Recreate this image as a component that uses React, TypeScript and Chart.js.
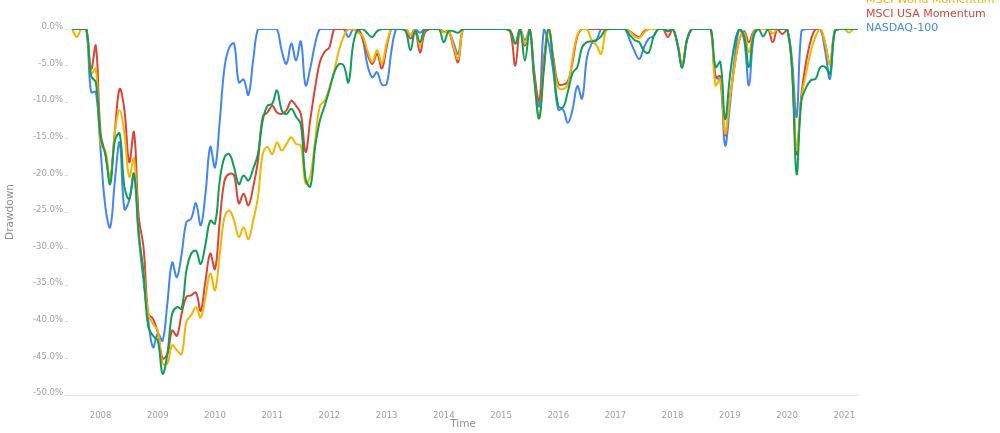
import React, { useEffect, useRef } from 'react';
import { Chart, registerables } from 'chart.js';

Chart.register(...registerables);

// Monthly observations, first one at the end of June 2007
const FIRST_YEAR = 2007;
const FIRST_MONTH = 6;
const COUNT = 166;
const monthLabels: string[] = [];
for (let i = 0; i < COUNT; i++) {
  const t = FIRST_MONTH - 1 + i;
  const y = FIRST_YEAR + Math.floor(t / 12);
  const m = (t % 12) + 1;
  monthLabels.push(`${y}-${String(m).padStart(2, '0')}`);
}
const monthToYear = (s: string) => {
  const [y, m] = s.split('-').map(Number);
  return y + m / 12;
};

const yearTicks = [2008, 2009, 2010, 2011, 2012, 2013, 2014, 2015, 2016, 2017, 2018, 2019, 2020, 2021];

const seriesNames = ['MSCI World', 'MSCI World Momentum', 'MSCI USA Momentum', 'NASDAQ-100'];
const seriesColors = ['#0F9D58', '#F4B400', '#DB4437', '#4285F4'];

const nasdaq100 = [
  0, 0, 0, 0, -8.6, -8.6, -16.6, -24.3, -27.1, -20.7, -15.5, -24.6,
  -23.4, -19.8, -28.4, -34.4, -39.8, -43.5, -41.6, -42.6, -37.5, -31.9, -33.9, -30.7,
  -26.4, -25.9, -23.8, -26.8, -22.5, -16.1, -18.9, -12.5, -5.2, -2.5, -2.0, -7.3,
  -6.9, -9.0, -4.3, 0, 0, 0, 0, 0, -3, -4.75, -2, -4.3,
  -1.7, -7.7, -5.3, -2, 0, 0, 0, 0, 0, 0, -1.1, 0,
  0, -1.5, -5, -6.6, -5.9, -7.6, -7.5, -3, 0, 0, 0, -0.8,
  0, -0.5, 0, 0, 0, 0, -0.4, -0.3, -1.8, -3.4, 0, 0,
  0, 0, 0, 0, 0, 0, 0, 0, -0.3, -2, 0, -1.5,
  0, -7, -10.5, 0, -2, -6, -11, -11, -12.8, -11, -7.8, -9.5,
  -4, -2, -1.6, 0, 0, 0, 0, 0, 0, -1.5, -3, -4.1,
  -2.5, -1.3, -1, 0, 0, -0.2, 0, -2, -5, -1.5, 0, 0,
  0, 0, 0, -6.6, -7, -15.9, -10.5, -4, 0, -1.5, -7.7, -1,
  0, 0, 0, 0, 0, 0, 0, -4, -12, -0.3, 0, 0,
  0, 0, -3, -6.8, -0.3, 0, 0, 0, 0, 0,
];

const msciUsaMomentum = [
  0, 0, 0, 0, -5.5, -2.3, -14.3, -17.1, -20.5, -13.9, -8.2, -11.1,
  -18.2, -14.1, -25.7, -29.8, -38.9, -39.6, -41.5, -45.0, -44.4, -41.2, -41.9, -38.9,
  -36.6, -36.4, -36.0, -38.5, -34.4, -30.7, -32.8, -26.2, -20.7, -19.8, -20.0, -23.8,
  -22.5, -24.1, -21.6, -18.0, -12.0, -11.4, -10.5, -11.4, -11.6, -11.1, -9.8, -10.5,
  -11.6, -16.8, -12.3, -8, -4.5, -3.1, -2.5, 0, 0, 0, 0, 0,
  0, -1.3, -3.5, -4.8, -3.4, -5.4, -2.5, 0, 0, 0, 0, -1.3,
  -0.3, -3.2, -0.5, 0, 0, 0, -0.4, -0.3, -2.5, -4.5, 0, 0,
  0, 0, 0, 0, 0, 0, 0, 0, -0.5, -5, 0, -2.3,
  0, -6, -9.8, -4, 0, -4, -7.5, -7.6, -7.2, -4.5, -1, 0,
  0, 0, 0, 0, 0, 0, 0, 0, 0, -0.3, -0.8, -1.1,
  -0.3, 0, 0, 0, 0, -1.1, 0, -2, -5, -1.5, 0, 0,
  0, 0, 0, -6.5, -6.5, -14.5, -9.5, -5, -1.5, -0.3, -1.8, -0.3,
  0, 0, 0, -1.8, 0, -0.7, 0, -5, -17.1, -9, -4.5, -1.5,
  0, 0, -2, -4.8, -0.3, 0, 0, 0, 0, 0,
];

const msciWorldMomentum = [
  0, -1.1, 0, 0, -6.1, -5.4, -15.7, -16.6, -20.7, -14.1, -11.1, -14.3,
  -20.2, -17.7, -28.0, -33.0, -38.9, -40.3, -41.2, -45.7, -45.7, -43.2, -43.9, -44.4,
  -40.0, -39.1, -38.0, -39.4, -36.6, -33.4, -35.7, -30.7, -25.7, -24.8, -26.2, -28.4,
  -27.1, -28.7, -26.2, -23.0, -17.1, -16.1, -17.1, -15.5, -16.6, -15.7, -14.8, -15.7,
  -15.9, -21.1, -20, -15.2, -10.5, -9.8, -8, -5.7, -2.9, -1, 0, 0,
  -0.5, -1, -3, -4.5, -2.9, -4.7, -2, 0, 0, 0, 0, -0.8,
  0, -2.3, 0, 0, 0, 0, -0.5, -0.3, -2.2, -4.1, 0, 0,
  0, 0, 0, 0, 0, 0, 0, 0, -0.3, -2, 0, -2,
  0, -7, -12.2, -5, 0, -4.5, -8, -8.2, -7.6, -4, -0.8, 0,
  0, -1.5, -2.2, -3.4, -0.3, 0, 0, 0, 0, -0.3, -1, -1.2,
  -0.5, 0, 0, 0, 0, -0.3, 0, -2, -5, -1.5, 0, 0,
  0, 0, 0, -7.7, -6.9, -14.3, -9.5, -5, -1.5, -0.5, -3.2, -0.4,
  0, 0, 0, -0.6, 0, 0, 0, -5, -16.5, -9.5, -6, -3,
  -1, 0, -2, -4.8, -0.3, 0, 0, -0.5, 0, 0,
];

const msciWorld = [
  0, 0, 0, 0, -6.4, -7.3, -14.8, -17.1, -21.2, -15.2, -14.3, -21.6,
  -23.2, -19.8, -28.0, -33.4, -40.7, -41.9, -42.6, -47.1, -44.4, -38.9, -38.0, -38.2,
  -33.0, -30.7, -30.3, -32.1, -29.4, -26.2, -26.6, -20.7, -17.5, -17.1, -18.9, -21.2,
  -20.0, -20.7, -19.1, -17.1, -12.5, -10.5, -10.2, -8.4, -11.1, -11.6, -10.9, -12.0,
  -13.0, -20.5, -21.5, -16.1, -12.5, -10.5, -8.3, -6, -4.8, -5, -7.3, -2,
  0, 0, -0.6, -1.1, -0.3, 0, 0, 0, 0, 0, -0.3, -2.9,
  -0.2, -1.8, 0, 0, 0, 0, -1.8, -0.3, -0.3, -0.5, 0, 0,
  0, 0, 0, 0, 0, 0, 0, 0, -0.3, -2, 0, -4.3,
  0, -7, -12.2, -5.5, 0, -5, -10.5, -10.7, -8.6, -6, -5.2, -2.5,
  -1.8, -1.7, -1.5, -1, 0, 0, 0, 0, 0, -0.8, -1.5, -1.8,
  -3, -3.2, -1, 0, 0, -0.3, 0, -2, -5.3, -1.5, 0, 0,
  0, 0, 0, -5.2, -4.5, -12.3, -6.5, -2, 0, -1, -5.2, -0.8,
  0, -1, 0, 0, 0, 0, 0, -5, -19.8, -9.8, -8, -7,
  -6.8, -5.2, -5.2, -6.1, -0.3, 0, 0, 0, 0, 0,
];

const seriesValues = [msciWorld, msciWorldMomentum, msciUsaMomentum, nasdaq100];

const endLabels = {
  id: 'endLabels',
  afterDatasetsDraw(chart: any) {
    const ctx = chart.ctx;
    const items = chart.data.datasets.map((ds: any, i: number) => {
      const meta = chart.getDatasetMeta(i);
      const last = meta.data[meta.data.length - 1];
      return { y: last.y, text: ds.label, color: ds.borderColor, rank: i };
    });
    items.sort((a: any, b: any) => b.y - a.y || b.rank - a.rank);
    let prev = Infinity;
    ctx.save();
    ctx.font = '11px "DejaVu Sans"';
    ctx.textBaseline = 'middle';
    ctx.textAlign = 'left';
    for (const it of items) {
      const y = Math.min(it.y, prev - 14);
      prev = y;
      ctx.fillStyle = it.color;
      ctx.fillText(it.text, chart.chartArea.right + 8, y - 1);
    }
    ctx.restore();
  },
};

export default function App() {
  const ref = useRef<HTMLCanvasElement>(null);
  useEffect(() => {
    if (!ref.current) return;
    const xs = monthLabels.map(monthToYear);
    const chart = new Chart(ref.current, {
      type: 'line',
      data: {
        datasets: seriesNames.map((name, i) => ({
          label: name,
          data: seriesValues[i].map((v, j) => ({ x: xs[j], y: v })),
          borderColor: seriesColors[i],
          backgroundColor: seriesColors[i],
          borderWidth: 2,
          pointRadius: 0,
          tension: 0.4,
          fill: false,
        })),
      },
      options: {
        animation: false,
        responsive: false,
        devicePixelRatio: 1,
        layout: { padding: { top: 29, right: 142, left: 0, bottom: 0 } },
        plugins: { legend: { display: false }, tooltip: { enabled: false } },
        scales: {
          x: {
            type: 'linear',
            min: 2007.43,
            max: 2021.24,
            afterFit: (s: any) => { s.height = 38; },
            afterBuildTicks: (s: any) => { s.ticks = yearTicks.map((v) => ({ value: v })); },
            ticks: {
              autoSkip: false,
              maxRotation: 0,
              padding: 8,
              color: '#a0a0a0',
              font: { family: 'DejaVu Sans', size: 8.5 },
              callback: (v: any) => String(v),
            },
            grid: { display: false },
            border: { display: true, color: '#e6e6e6', width: 1 },
            title: {
              display: true,
              text: 'Time',
              color: '#8f8f8f',
              font: { family: 'DejaVu Sans', size: 10.5 },
              padding: { top: 0, bottom: 2 },
            },
          },
          y: {
            min: -50,
            max: 0,
            afterFit: (s: any) => { s.width = 68; },
            ticks: {
              stepSize: 5,
              padding: 2,
              labelOffset: -2,
              color: '#a0a0a0',
              font: { family: 'DejaVu Sans', size: 8.5 },
              callback: (v: any) => Number(v).toFixed(1) + '%',
            },
            grid: { display: true, drawOnChartArea: false, drawTicks: true, tickLength: 3, color: '#d8d8d8' },
            border: { display: false },
            title: {
              display: true,
              text: 'Drawdown',
              color: '#8f8f8f',
              font: { family: 'DejaVu Sans', size: 10.5 },
              padding: { top: 4, bottom: 0 },
            },
          },
        },
      },
      plugins: [endLabels],
    } as any);
    return () => chart.destroy();
  }, []);
  return (
    <div style={{ position: 'absolute', left: 0, top: 0, width: 1000, height: 433, background: '#fff' }}>
      <canvas ref={ref} width={1000} height={433} style={{ display: 'block' }} />
    </div>
  );
}
